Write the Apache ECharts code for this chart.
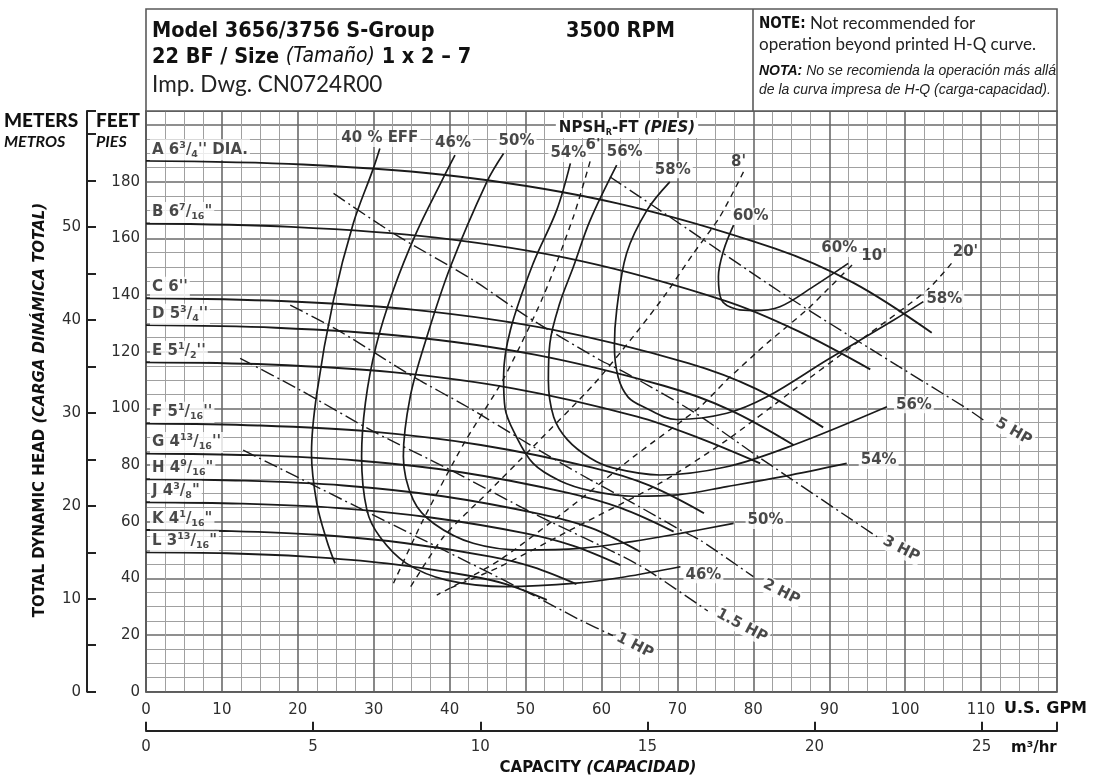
<!DOCTYPE html>
<html><head><meta charset="utf-8">
<script src="https://cdn.jsdelivr.net/npm/echarts/dist/echarts.min.js"></script>
<style>html,body{margin:0;padding:0;background:#fff}#c{width:1093px;height:778px}</style>
</head><body><div id="c"></div>
<script>
// ---------- DATA (U.S. GPM, feet) ----------
const gpmTicks = [0,10,20,30,40,50,60,70,80,90,100,110];
const feetTicks = [0,20,40,60,80,100,120,140,160,180];
const meterTicks = [0,10,20,30,40,50];
const m3hTicks = [0,5,10,15,20,25];

// H-Q curves (impeller diameters)
const curveA = [[0,187.4],[20.7,186.1],[41.4,181.8],[62.1,172.4],[82.8,156.5],[93.2,144.3],[103.5,126.7]];
const curveB = [[0,165.3],[19.1,164.1],[38.2,160.3],[57.2,152.1],[76.3,138.0],[85.9,127.3],[95.4,113.8]];
const curveC = [[0,138.9],[17.8,137.9],[35.7,134.7],[53.5,127.8],[71.4,116.0],[80.3,107.0],[89.2,93.3]];
const curveD = [[0,129.4],[17.1,128.5],[34.1,125.5],[51.2,119.0],[68.2,108.0],[76.8,99.6],[85.3,87.1]];
const curveE = [[0,116.3],[16.2,115.5],[32.4,112.8],[48.5,107.0],[64.7,97.1],[72.8,89.6],[80.9,80.6]];
const curveF = [[0,94.7],[14.7,94.0],[29.4,91.9],[44.1,87.1],[58.8,79.1],[66.2,72.9],[73.5,63.0]];
const curveG = [[0,84.1],[13.9,83.5],[27.8,81.6],[41.7,77.4],[55.6,70.2],[62.6,64.8],[69.5,56.5]];
const curveH = [[0,75.0],[13.0,74.5],[26.0,72.8],[39.1,69.0],[52.1,62.6],[58.6,57.8],[65.1,49.4]];
const curveJ = [[0,66.9],[12.5,66.4],[25.0,64.9],[37.5,61.5],[50.0,55.9],[56.3,51.5],[62.5,44.7]];
const curveK = [[0,57.1],[11.3,56.7],[22.7,55.4],[34.0,52.5],[45.4,47.7],[51.0,44.0],[56.7,38.0]];
const curveL = [[0,49.2],[10.6,48.9],[21.1,47.7],[31.7,45.3],[42.2,41.1],[47.5,37.9],[52.8,32.4]];
const hqLabelText = ["A 6|3|4|'' DIA.", 'B 6|7|16|"', "C 6''", "D 5|3|4|''", "E 5|1|2|''", "F 5|1|16|''", "G 4|13|16|''", 'H 4|9|16|"', 'J 4|3|8|"', 'K 4|1|16|"', 'L 3|13|16|"'];

// Efficiency curves
const eff40 = [[30.8,191.8],[29.9,184.4],[27.3,165.3],[24.7,138.3],[22.5,105.3],[21.8,84.1],[22.5,66.5],[23.8,53.5],[24.9,45.3]];
const eff46 = [[40.7,189.4],[38.9,180],[35.6,162],[32.6,142],[30.3,122],[28.9,102],[28.4,83],[29.1,64.1],[30.8,54.7],[34.3,45.3],[39.6,39.4],[47.5,37.1],[56.7,38.3],[63,40.5],[70.4,44.1]];
const eff50 = [[47.1,190],[44.9,180],[40.1,150],[37,125.3],[34.8,104.1],[33.9,83],[35.2,67.7],[37.9,59.4],[43.1,52.4],[49.7,50],[57.2,50.6],[64,53],[70.4,55.9],[77.4,59.4]];
const eff54 = [[55.9,186.5],[54.1,170],[51,151.2],[48,127.7],[47.1,111.2],[47.3,100],[48.6,91],[51,80.6],[54.5,74.5],[58.5,71],[64.2,69],[70,69.5],[76.5,72.4],[84,76],[92.3,80.6]];
const eff56 = [[62,185.9],[58.5,166.4],[56.3,150],[54.5,137.1],[53.2,123],[53,110],[53.7,97],[55.5,89],[58.5,82.5],[61.5,79],[67.7,76.5],[76.5,79.4],[85.3,87.1],[97.6,100.6]];
const eff58 = [[69,180],[66,170],[63.3,154.7],[62,134.7],[61.7,122],[62.2,111],[63.5,104],[65.5,100.6],[69.9,96.1],[76.5,98.3],[81.8,104.1],[89.7,117.1],[98.5,131.2],[102.4,137.7]];
const eff60 = [[77.4,164.7],[76.1,155.9],[75.4,146.5],[75.8,138.3],[77.8,135],[80,134.5],[83.5,135.9],[87.9,143],[92.5,151.2]];
const effNames = ['40 % EFF','46%','50%','54%','56%','58%','60%'];

// NPSHr lines
const npsh6 = [[58.5,187.2],[56.3,167.7],[52.3,139.4],[47,110],[42,88.2],[36.5,60.6],[32.6,38.3]];
const npsh8 = [[78.7,183.5],[75.6,167.7],[72.1,154.7],[68.2,139.4],[63.8,124.1],[58.9,108.3],[51,86.5],[44.9,70],[39.2,54.7],[34.6,35.9]];
const npsh10 = [[93,150.6],[89.7,141.8],[87,134.7],[81.8,123],[76.5,110],[73,100.6],[64.2,82.9],[55.4,64.1],[46.6,46.5],[38.3,34.1]];
const npsh20 = [[106.1,151.2],[102.9,141.8],[94.1,124.1],[85.3,106.5],[76.5,88.8],[67.7,73.6],[56.7,58.2],[46.6,44.1],[40,36.5]];
const npshNames = ["6'", "8'", "10'", "20'"];

// Horsepower lines
const hp1 = [[12.8,85.3],[28.2,64.7],[35.7,54.7],[49.7,35.9],[57.2,25.3],[61.5,19.8]];
const hp15 = [[12.4,117.7],[20.3,106.5],[30,91.8],[40.1,78.3],[51,63],[62,48.8],[66,43],[74,28.5]];
const hp2 = [[19,136.5],[25.6,127.1],[35.2,111.2],[42.3,100.6],[51,86.5],[57.4,76.5],[64.2,66.5],[70.4,57.1],[73,53.5],[80,40.6]];
const hp3 = [[24.7,175.9],[32.6,161.8],[43.1,145.3],[50.2,132.4],[59.8,117.1],[63.3,112.4],[72.1,98.8],[80.9,82.5],[96.3,54.7]];
const hp5 = [[61.1,181.8],[71.2,163.6],[83.5,141.2],[96.7,118.9],[108.1,100],[110.3,95.9]];
const hpNames = ['1 HP','1.5 HP','2 HP','3 HP','5 HP'];

// ---------- unit conversions for the secondary axes ----------
const FT_PER_M = 3.28084, GPM_PER_M3H = 4.40287;
const X_MAX = 120, Y_MAX = 205;

// ---------- styling ----------
const SANS = "Lato, 'Open Sans', 'DejaVu Sans', sans-serif";
const DJ = "'DejaVu Sans', sans-serif";
const COND = "'DejaVu Sans Condensed', 'DejaVu Sans', sans-serif";
const ARIAL = "'Liberation Sans', Arial, sans-serif";
const INK = '#1b1b1b';

const hqCurves = [curveA,curveB,curveC,curveD,curveE,curveF,curveG,curveH,curveJ,curveK,curveL];
const effCurves = [eff40,eff46,eff50,eff54,eff56,eff58,eff60];
const npshCurves = [npsh6,npsh8,npsh10,npsh20];
const hpCurves = [hp1,hp15,hp2,hp3,hp5];

const effTopOffsets = [[0,-10],[-2,-12],[13,-12],[-2,-10],[8,-13],[3,-12],[17,-9]];
const effEndLayout = [null,{o:[3,8],a:'left'},{o:[12,-3],a:'left'},{o:[12,-3],a:'left'},{o:[7,-2],a:'left'},{o:[1,-3],a:'left'},{o:[-9,-15],a:'center'}];
const npshOffsets = [[3,-16],[-5,-10],[22,-9],[14,-11]];
const hpRot = [-27,-28,-27,-27,-30];
const hpOffsets = [[24,-1],[37,-3],[32,1],[27,0],[32,-5]];

function hqRich(s){ const p=s.split('|'); return p.length===4 ? `{b|${p[0]}}{sup|${p[1]}}{b|/}{sub|${p[2]}}{b|${p[3]}}` : `{b|${p[0]}}`; }

const labelItems = [];
hqCurves.forEach((c,i)=>labelItems.push({value:c[0], text:hqRich(hqLabelText[i]), label:{align:'left', offset:[4,-11]}}));
effCurves.forEach((c,i)=>{
  labelItems.push({value:c[0], text:effNames[i], label:{align:'center', offset:effTopOffsets[i]}});
  if (effEndLayout[i]) labelItems.push({value:c[c.length-1], text:effNames[i], label:{align:effEndLayout[i].a, offset:effEndLayout[i].o}});
});
npshCurves.forEach((c,i)=>labelItems.push({value:c[0], text:npshNames[i], label:{align:'center', offset:npshOffsets[i], backgroundColor:'transparent'}}));
hpCurves.forEach((c,i)=>labelItems.push({value:c[c.length-1], text:hpNames[i], label:{align:'center', offset:hpOffsets[i], rotate:hpRot[i]}}));

function line(data, ls, z, smooth){ return {type:'line', data, smooth, symbol:'none', showSymbol:false, lineStyle:ls, z, silent:true, animation:false}; }
const series = [];
hqCurves.forEach(d=>series.push(line(d,{color:INK,width:1.9},5,0.35)));
effCurves.forEach(d=>series.push(line(d,{color:INK,width:1.7},5,0.35)));
npshCurves.forEach(d=>series.push(line(d,{color:INK,width:1.4,type:[6,5]},4,0.25)));
hpCurves.forEach(d=>series.push(line(d,{color:INK,width:1.4,type:[14,4,2,4]},4,0.25)));
series.push({
  type:'scatter', data:labelItems, symbolSize:1, itemStyle:{color:'transparent'}, z:20, silent:true, animation:false,
  label:{show:true, position:'inside', formatter:p=>p.data.text, fontFamily:DJ, fontWeight:'bold', fontSize:15,
    color:INK, backgroundColor:'#fff', padding:[1,2],
    rich:{ b:{fontFamily:DJ,fontWeight:'bold',fontSize:15,color:INK,lineHeight:19},
           sup:{fontFamily:DJ,fontWeight:'bold',fontSize:9.5,color:INK,lineHeight:11,verticalAlign:'top'},
           sub:{fontFamily:DJ,fontWeight:'bold',fontSize:9.5,color:INK,lineHeight:11,verticalAlign:'bottom'} }}
});

const majorLine = {show:true, lineStyle:{color:'#6a6a6a', width:1.6}};
const minorLine = {show:true, lineStyle:{color:'#a0a0a0', width:1}};
const tickFont = {fontFamily:DJ, fontSize:15, color:'#2e2e2e'};
const T = (x,y,text,font,fill,extra)=>Object.assign({type:'text', z:101, x, y, style:{text, font, fill:fill||'#111', textAlign:'left', textVerticalAlign:'middle', align:'left', verticalAlign:'middle'}}, extra||{});

const option = {
  animation:false,
  backgroundColor:'#fff',
  grid:{left:146, right:36, top:111, bottom:86.3, show:true, borderColor:'#5a5a5a', borderWidth:1.6, outerBoundsMode:'none', containLabel:false},
  xAxis:[
    {type:'value', min:0, max:X_MAX, interval:10, position:'bottom',
     axisLine:{show:true, onZero:false, lineStyle:{color:'#5a5a5a', width:1.6}}, axisTick:{show:false},
     axisLabel:Object.assign({margin:11, formatter:v=>gpmTicks.includes(v)?String(v):''}, tickFont),
     splitLine:majorLine, minorTick:{show:false, splitNumber:4}, minorSplitLine:minorLine},
    {type:'value', min:0, max:X_MAX/GPM_PER_M3H, interval:5, position:'bottom', offset:39,
     axisLine:{show:true, onZero:false, lineStyle:{color:'#222', width:2}},
     axisTick:{show:true, inside:true, length:9, lineStyle:{color:'#222', width:2}},
     axisLabel:Object.assign({margin:9, formatter:v=>m3hTicks.includes(v)?String(v):''}, tickFont),
     splitLine:{show:false}}
  ],
  yAxis:[
    {type:'value', min:0, max:Y_MAX, interval:20, position:'left',
     axisLine:{show:true, onZero:false, lineStyle:{color:'#5a5a5a', width:1.6}}, axisTick:{show:false},
     axisLabel:Object.assign({margin:6, formatter:v=>feetTicks.includes(v)?String(v):''}, tickFont),
     splitLine:majorLine, minorTick:{show:false, splitNumber:4}, minorSplitLine:minorLine},
    {type:'value', min:0, max:Y_MAX/FT_PER_M, interval:5, position:'left', offset:59,
     axisLine:{show:true, onZero:false, lineStyle:{color:'#222', width:2}},
     axisTick:{show:true, inside:true, length:9, lineStyle:{color:'#222', width:2}},
     axisLabel:Object.assign({margin:6, formatter:v=>meterTicks.includes(v)?String(v):''}, tickFont),
     splitLine:{show:false}}
  ],
  series,
  graphic:[
    {type:'rect', z:100, shape:{x:146,y:9,width:911,height:102}, style:{fill:'#fff', stroke:'#5a5a5a', lineWidth:1.6}},
    {type:'line', z:101, shape:{x1:753,y1:9,x2:753,y2:111}, style:{stroke:'#5a5a5a', lineWidth:1.6}},
    T(152,31,'Model 3656/3756 S-Group',`bold 21.5px ${COND}`),
    T(566,31,'3500 RPM',`bold 21.5px ${COND}`),
    {type:'text', z:101, x:152, y:57, style:{text:'{b|22 BF / Size }{i|(Tamaño)}{b| 1 x 2 – 7}', textAlign:'left', textVerticalAlign:'middle', align:'left', verticalAlign:'middle',
      rich:{b:{font:`bold 21.5px ${COND}`, fill:'#111', color:'#111'}, i:{font:`italic 21px ${COND}`, fill:'#111', color:'#111'}}}},
    T(152,85,'Imp. Dwg. CN0724R00',`22.5px ${SANS}`,'#222'),
    {type:'text', z:101, x:759, y:24, style:{text:'{b|NOTE:}{r| Not recommended for}', textAlign:'left', textVerticalAlign:'middle', align:'left', verticalAlign:'middle',
      rich:{b:{font:`bold 15px ${COND}`, fill:'#111', color:'#111'}, r:{font:`17px ${SANS}`, fill:'#222', color:'#222'}}}},
    T(759,45,'operation beyond printed H-Q curve.',`17px ${SANS}`,'#222'),
    {type:'text', z:101, x:759, y:71, style:{text:'{b|NOTA:}{i| No se recomienda la operación más allá}', textAlign:'left', textVerticalAlign:'middle', align:'left', verticalAlign:'middle',
      rich:{b:{font:`bold italic 14px ${ARIAL}`, fill:'#111', color:'#111'}, i:{font:`italic 14px ${ARIAL}`, fill:'#222', color:'#222'}}}},
    T(759,90,'de la curva impresa de H-Q (carga-capacidad).',`italic 14px ${ARIAL}`,'#222'),
    T(4,121,'METERS',`900 19px ${SANS}`),
    T(4,142,'METROS',`italic bold 16px ${SANS}`),
    T(96,121,'FEET',`900 19px ${SANS}`),
    T(96,142,'PIES',`italic bold 16px ${SANS}`),
    {type:'text', z:101, x:40, y:410, rotation:Math.PI/2, style:{text:'{b|TOTAL DYNAMIC HEAD }{i|(CARGA DINÁMICA TOTAL)}', textAlign:'center', textVerticalAlign:'middle', align:'center', verticalAlign:'middle',
      rich:{b:{font:`bold 15px ${DJ}`, fill:'#111', color:'#111'}, i:{font:`italic bold 15px ${DJ}`, fill:'#111', color:'#111'}}}},
    T(1004,709,'U.S. GPM',`bold 16px ${DJ}`),
    T(1011,748,'m³/hr',`bold 15px ${DJ}`),
    {type:'text', z:101, x:598, y:768, style:{text:'{b|CAPACITY }{i|(CAPACIDAD)}', textAlign:'center', textVerticalAlign:'middle', align:'center', verticalAlign:'middle',
      rich:{b:{font:`bold 15px ${DJ}`, fill:'#111', color:'#111'}, i:{font:`italic bold 15px ${DJ}`, fill:'#111', color:'#111'}}}},
    {type:'text', z:101, x:627, y:128, style:{text:'{b|NPSH}{s|R}{b|-FT }{i|(PIES)}', textAlign:'center', textVerticalAlign:'middle', align:'center', verticalAlign:'middle',
      backgroundColor:'#fff', padding:[1,3],
      rich:{b:{font:`bold 15px ${DJ}`, fill:INK, color:INK, lineHeight:18}, s:{font:`bold 8px ${DJ}`, fill:INK, color:INK, lineHeight:9, verticalAlign:'bottom'}, i:{font:`italic bold 15px ${DJ}`, fill:INK, color:INK, lineHeight:18}}}}
  ]
};
const chart = echarts.init(document.getElementById('c'));
chart.setOption(option);
</script></body></html>
